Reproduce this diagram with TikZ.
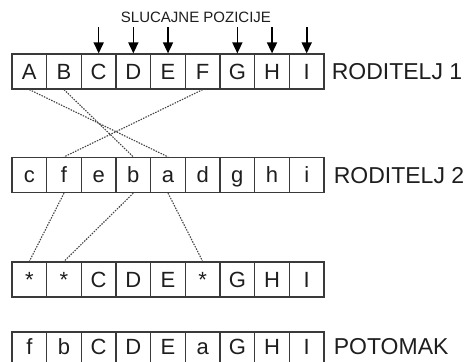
\documentclass[tikz,border=0pt]{standalone}
\usepackage{fontspec}
\setmainfont{Liberation Sans}
\usetikzlibrary{arrows.meta}
\definecolor{linec}{HTML}{3A3A3A}
\definecolor{textc}{HTML}{1E1E1E}
\definecolor{dotc}{HTML}{444444}
\tikzset{
  cell/.style={draw=linec, line width=1.2pt, minimum width=34.67pt,
    minimum height=35pt, inner sep=0pt, text=textc,
    font=\fontsize{22}{22}\selectfont, text height=15.7pt, text depth=0pt},
  rowlabel/.style={anchor=west, inner sep=0pt, text=textc,
    font=\fontsize{23}{23}\selectfont, text height=16.5pt, text depth=0pt},
  raised/.style={text depth=6.5pt},
  pick/.style={draw=black, line width=1.6pt,
    -{Triangle[length=11pt,width=10pt]}},
  link/.style={draw=dotc, line width=1.1pt, dash pattern=on 1.5pt off 1.2pt}
}
\begin{document}
\begin{tikzpicture}[x=1pt,y=-1pt]
\useasboundingbox (0,0) rectangle (465,361);

% four strings of nine genes (the last one runs off the bottom edge)
\foreach \r/\cy/\extra/\genes in {
    1/71.5/{}/{A,B,C,D,E,F,G,H,I},
    2/175/{}/{c,f,e,b,a,d,g,h,i},
    3/279.5/{}/{*,*,C,D,E,*,G,H,I},
    4/349.5/raised/{f,b,C,D,E,a,G,H,I}} {
  \foreach \g [count=\i] in \genes {
    \node[cell,\extra] (r\r c\i) at ({12+(\i-0.5)*34.67}, \cy) {\g};
  }
}

% row labels
\node[rowlabel] (lab1) at ([xshift=7pt]r1c9.east) {RODITELJ 1};
\node[rowlabel] (lab2) at ([xshift=9pt]r2c9.east) {RODITELJ 2};
\node[rowlabel,raised] (lab4) at ([xshift=9pt]r4c9.east) {POTOMAK};

% randomly chosen positions
\node[text=textc, font=\fontsize{15}{15}\selectfont, inner sep=0pt]
  (title) at (196,17) {SLUCAJNE POZICIJE};
\foreach \i in {3,4,5,7,8,9} {
  \draw[pick] ([yshift=26pt]r1c\i.north) -- (r1c\i.north);
}

% parent 1 -> parent 2
\draw[link] (r1c1.south) -- (r2c5.north);
\draw[link] (r1c2.south) -- (r2c4.north);
\draw[link] (r1c6.south) -- (r2c2.north);

% parent 2 -> free positions of the child
\draw[link] (r2c2.south) -- (r3c1.north);
\draw[link] (r2c4.south) -- (r3c2.north);
\draw[link] (r2c5.south) -- (r3c6.north);
\end{tikzpicture}
\end{document}
